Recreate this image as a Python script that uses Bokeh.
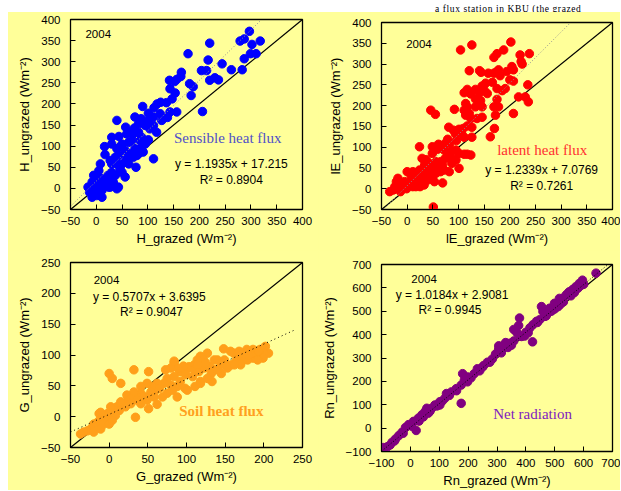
from bokeh.plotting import figure
from bokeh.models import Range1d, FixedTicker, Label, Div, Spacer
from bokeh.layouts import row, column
from bokeh.embed import file_html
from bokeh.resources import INLINE

# ---------------- data ----------------
# Panel 1: sensible heat flux H (W m-2)
h_grazed = [297, 318, 287, 279, 302, 220, 178, 299, 310, 287, 217, 204, 214, 262, 244, 283, 165, 164,
            220, 230, 237, 142, 152, 156, 181, 188, 143, 153, 184, 147, 118, 125, 136, 112, 124, 143,
            156, 206, 90, 101, 75, 40, 138, 127, 101, 87, 82, 95, 111, 117, 101, 88, 74, 59, 44, 30,
            16, 30, 50, 69, 75, 85, 111, 77, 17, 8, 30, 43, 59, 66, 46, 30, 11, 1, -8, -16, -11, -2,
            5, 14, 27, 40, 43, 19, 24, 37, 56, 63, 50, 72, 82, 91, 56, 40, 46, 37, 5, -5, -13, 1, 11,
            17, 23, 3, 10, 63, 72, 82, 66, 57, 111, 104, 85, 95, 79, 40, 27, 50, 33, 24, -5, 11, 1, -8]
h_ungrazed = [372, 349, 354, 349, 341, 344, 319, 319, 319, 307, 304, 279, 279, 281, 295, 281, 275, 265,
              256, 262, 257, 256, 253, 258, 248, 241, 236, 226, 220, 212, 200, 204, 203, 191, 177, 181,
              181, 182, 194, 178, 169, 161, 168, 161, 161, 165, 153, 149, 149, 133, 115, 121, 143, 129,
              123, 121, 99, 105, 105, 113, 94, 94, 70, 50, 80, 58, 58, 78, 70, 82, 46, 38, 23, 11, 15,
              3, -9, -13, -1, 3, 3, -1, 3, 12, 27, 31, 27, 58, 58, 74, 82, 86, 90, 94, 98, 74, 42, 31,
              -9, -9, -5, 7, 31, 27, 15, 109, 129, 133, 133, 145, 169, 141, 113, 105, 78, 58, 66, 38,
              15, 3, 3, -21, -17, -21]

# Panel 2: latent heat flux lE (W m-2)
le_grazed = [202, 126, 104, 188, 175, 169, 238, 220, 222, 224, 204, 207, 121, 141, 144, 173, 158, 169,
             178, 194, 181, 200, 207, 166, 153, 146, 133, 117, 111, 124, 141, 150, 156, 175, 191, 185,
             235, 217, 230, 236, 207, 175, 169, 178, 172, 170, 162, 143, 133, 146, 133, 114, 117, 111,
             121, 146, 136, 124, 114, 92, 46, 55, 81, 90, 101, 94, 109, 117, 126, 126, 111, 106, 79,
             74, 83, 96, 95, 101, 111, 117, 124, 87, 72, 79, 74, 88, 61, 49, 59, 24, 49, 37, 29, 43,
             56, 65, 53, 63, 69, 101, 87, 95, 43, 30, 37, 46, 56, 65, 72, 82, 24, 17, 11, 21, 30, 40,
             49, 53, 69, 0, 11, 8, -5, 5, 11, -1, -11, -21, -24, -18, -34, -27, -13, 24, 17, 25, 33,
             51, 40, 34]
le_ungrazed = [353, 346, 334, 334, 325, 316, 325, 322, 306, 300, 294, 286, 284, 284, 280, 280, 278, 278,
               286, 282, 272, 262, 259, 256, 254, 247, 239, 239, 231, 228, 231, 237, 229, 241, 241, 236,
               250, 221, 221, 209, 181, 215, 197, 197, 177, 145, 125, 212, 216, 197, 197, 205, 197,
               189, 181, 172, 169, 169, 177, 191, 189, 179, 148, 141, 143, 132, 145, 151, 148, 124,
               124, 133, 119, 109, 109, 116, 93, 85, 83, 83, 81, 91, 93, 81, 73, 73, 107, 101, 95, 101,
               85, 70, 73, 61, 65, 65, 53, 53, 57, 49, 61, 69, 45, 45, 37, 33, 37, 41, 45, 41, 33, 29,
               21, 17, 21, 21, 25, 17, 14, 41, 41, 29, 17, 13, 5, 0, 5, 17, 5, 25, -7, -3, -7, 45, 5,
               5, 9, -44, 49, 57]

# Panel 3: soil heat flux G (W m-2)
g_grazed = [148, 202, 195, 186, 178, 206, 200, 161, 157, 168, 170, 183, 192, 199, 186, 179, 172, 164,
            158, 170, 149, 140, 136, 127, 118, 122, 114, 110, 103, 110, 116, 123, 130, 136, 132, 118,
            133, 98, 101, 96, 92, 99, 84, 80, 73, 84, 75, 84, 92, 88, 80, 71, 62, 56, 60, 54, 65, 88,
            62, 49, 47, 41, 43, 36, 32, 23, 32, 4, 0, 15, 51, 49, 41, 28, 23, 19, 15, 10, 13, 6, 2, 8,
            -2, -7, -11, -4, -11, -15, -20, -13, -18, -24, -28, -33, -37, -20, -11, -7, 0, 4, -13,
            -11, 2, 15, 34, 21, 28, 36, 41, 51, 58, 69, 75, 82, 101, 111, 118, 127, 145, 153, 162,
            145, 140, 125, 114, 89, 108, 187, 180, 193, 192]
g_ungrazed = [110, 114, 109, 109, 109, 103, 103, 103, 106, 106, 100, 103, 98, 95, 95, 92, 90, 90, 84,
              84, 92, 92, 92, 103, 98, 92, 92, 84, 81, 76, 73, 79, 81, 76, 70, 57, 57, 46, 78, 82, 73,
              68, 87, 79, 76, 90, 62, 65, 57, 49, 51, 54, 54, 49, 43, 40, 46, 32, 20, 27, 32, 38, 32,
              32, 40, 35, 76, 62, 70, 54, 73, 54, 49, 29, 24, 21, 18, 16, 10, 10, 5, 2, 5, 2, -1, -4,
              -6, -9, -12, -14, -17, -20, -23, -25, -28, -25, -20, -12, -12, -6, 5, 7, 16, 24, -1, 16,
              21, 27, 21, 13, 32, 32, 38, 43, 43, 49, 54, 62, 70, 79, 84, 84, 76, 87, 84, 78, 65,
              103, 100, 106, 92]

# Panel 4: net radiation Rn (W m-2)
rn_grazed = [643, 596, 585, 573, 562, 550, 539, 527, 516, 510, 505, 493, 482, 476, 454, 465, 448, 437,
             425, 414, 423, 408, 396, 380, 378, 375, 358, 369, 358, 344, 330, 323, 306, 295, 284, 267,
             250, 232, 221, 198, 187, 181, 176, 176, 159, 142, 125, 119, 102, 85, 74, 57, 51, 40, 28,
             20, 11, -6, -17, -29, -40, -51, -63, -80, -94, 62, 102, 198, 254, 306, 459, 499, 545,
             471, 590, 580, 556, 520, 488, 470, 440, 400, 385, 350, 338, 315, 275, 240, 210, 160,
             135, 110, 92, 68, 45, 30, 5, -25, -55, -70, 600, 568, 530, 512, 500]
rn_ungrazed = [663, 633, 619, 605, 593, 583, 569, 555, 555, 534, 520, 506, 513, 492, 520, 478, 464,
               457, 443, 429, 369, 408, 394, 394, 471, 439, 422, 408, 373, 363, 366, 352, 338, 317,
               296, 282, 261, 254, 233, 219, 205, 233, 184, 106, 169, 155, 148, 127, 113, 99, 85, 85,
               71, 57, 43, -10, 29, 15, 3, -18, -32, -46, -60, -80, -83, 64, 99, 198, 268, 352, 499,
               534, 576, 485, 610, 598, 566, 530, 500, 480, 452, 410, 392, 355, 345, 322, 282, 245,
               215, 160, 140, 115, 95, 72, 48, 30, 8, -22, -55, -72, 615, 580, 540, 520, 510]

# tick values
ticks_h = [-50, 0, 50, 100, 150, 200, 250, 300, 350, 400]
ticks_g = [-50, 0, 50, 100, 150, 200, 250]
ticks_rn = [-100, 0, 100, 200, 300, 400, 500, 600, 700]

# regression fits (slope, intercept, r2) and x-extent of the fitted line
fit_h = (1.1935, 17.215, 0.8904, [-50, 320])
fit_le = (1.2339, 7.0769, 0.7261, [-50, 318])
fit_g = (0.5707, 3.6395, 0.9047, [-50, 240])
fit_rn = (1.0184, 2.9081, 0.9945, [-100, 685])

caption_fragment = "a flux station in KBU (the grazed"

YELLOW = "#FFFF99"
FONT = "Liberation Sans"
SERIF = "Liberation Serif"


def panel(w, h, rng, ticks, borders, xlabel, ylabel):
    lo, hi = rng
    bl, br, bt, bb = borders
    p = figure(width=w, height=h, x_range=Range1d(lo, hi), y_range=Range1d(lo, hi),
               output_backend="svg", toolbar_location=None,
               min_border_left=bl, min_border_right=br, min_border_top=bt, min_border_bottom=bb)
    p.background_fill_color = YELLOW
    p.border_fill_color = YELLOW
    p.outline_line_color = "black"
    p.outline_line_width = 1.3
    p.grid.visible = False
    for ax in p.axis:
        ax.ticker = FixedTicker(ticks=ticks)
        ax.major_tick_in = 5
        ax.major_tick_out = 0
        ax.minor_tick_in = 0
        ax.minor_tick_out = 0
        ax.axis_line_color = "black"
        ax.major_tick_line_color = "black"
        ax.major_label_text_font = FONT
        ax.major_label_text_font_size = "11.5px"
        ax.major_label_text_color = "black"
        ax.axis_label_text_font = FONT
        ax.axis_label_text_font_size = "13px"
        ax.axis_label_text_font_style = "normal"
        ax.axis_label_text_color = "black"
    p.xaxis.major_label_standoff = 7
    p.yaxis.major_label_standoff = 10
    p.xaxis.axis_label_standoff = 3
    p.yaxis.axis_label_standoff = 6
    p.xaxis.axis_label = xlabel
    p.yaxis.axis_label = ylabel
    # 1:1 line
    p.line([lo, hi], [lo, hi], line_color="black", line_width=1.2)
    return p


def add_fit(p, fit, color, dash):
    a, b, _, xs = fit
    p.line(xs, [a * x + b for x in xs], line_color=color, line_width=1, line_dash=dash)


def txt(p, x, y, s, size="12px", color="black", font=FONT, align="left", style="normal"):
    p.add_layout(Label(x=x, y=y, text=s, text_font=font, text_font_size=size, text_color=color,
                       text_align=align, text_baseline="middle", text_font_style=style))


# ---- panel 1
p1 = panel(310, 238, (-50, 400), ticks_h, (60, 16, 7, 41),
           "H_grazed (Wm\u207b\u00b2)", "H_ungrazed (Wm\u207b\u00b2)")
p1.scatter(h_grazed, h_ungrazed, size=8.5, color="#0000FF")
add_fit(p1, fit_h, "#909090", "1 2")
txt(p1, -21, 366, "2004", size="11.5px")
txt(p1, 255, 120, "Sensible heat flux", size="15px", color="#5050C8", font=SERIF, align="center")
txt(p1, 262, 58, "y = %.4fx + %.3f" % (fit_h[0], fit_h[1]), align="center")
txt(p1, 262, 21, "R\u00b2 = %.4f" % fit_h[2], align="center")

# ---- panel 2
p2 = panel(302, 238, (-50, 400), ticks_h, (60, 8, 10, 41),
           "lE_grazed (Wm\u207b\u00b2)", "lE_ungrazed (Wm\u207b\u00b2)")
p2.scatter(le_grazed, le_ungrazed, size=8.5, color="#FF0000")
add_fit(p2, fit_le, "#909090", "1 2")
txt(p2, -2, 348, "2004", size="11.5px")
txt(p2, 263, 92, "latent heat flux", size="15px", color="#FF3030", font=SERIF, align="center")
txt(p2, 262, 44, "y = %.4fx + %.4f" % (fit_le[0], fit_le[1]), align="center")
txt(p2, 262, 7, "R\u00b2 = %.4f" % fit_le[2], align="center")

# ---- panel 3
p3 = panel(310, 240, (-50, 250), ticks_g, (62, 16, 12, 43),
           "G_grazed (Wm\u207b\u00b2)", "G_ungrazed (Wm\u207b\u00b2)")
p3.scatter(g_grazed, g_ungrazed, size=8.5, color="#FF9F1A")
add_fit(p3, fit_g, "black", "1 3")
txt(p3, -20, 221, "2004", size="11.5px")
txt(p3, -21, 194, "y = %.4fx + %.4f" % (fit_g[0], fit_g[1]))
txt(p3, 14, 169, "R\u00b2 = %.4f" % fit_g[2])
txt(p3, 145, 10, "Soil heat flux", size="15px", color="#FFA020", font=SERIF, align="center",
    style="bold")

# ---- panel 4
p4 = panel(302, 240, (-100, 700), ticks_rn, (61, 6, 14, 36),
           "Rn_grazed (Wm\u207b\u00b2)", "Rn_ungrazed (Wm\u207b\u00b2)")
p4.scatter(rn_grazed, rn_ungrazed, size=8.5, color="#800080")
add_fit(p4, fit_rn, "black", "1 2")
txt(p4, 3, 640, "2004", size="11.5px")
txt(p4, -51, 569, "y = %.4fx + %.4f" % (fit_rn[0], fit_rn[1]))
txt(p4, 28, 506, "R\u00b2 = %.4f" % fit_rn[2])
txt(p4, 423, 61, "Net radiation", size="15px", color="#8020C0", font=SERIF, align="center")

top_strip = Div(
    text=('<div style="margin-left:435px; font-family:\'Liberation Serif\'; '
          'font-size:9.5px; line-height:10px; white-space:nowrap; color:#000; '
          'letter-spacing:0.6px;">%s</div>' % caption_fragment),
    width=620, height=12, margin=(0, 0, 0, 0))

panels = row(column(p1, p3), column(p2, p4), styles={"background-color": YELLOW})
body = row(Spacer(width=8, height=478), panels)
layout = column(top_strip, body)
open("out.html", "w").write(file_html(layout, INLINE))
